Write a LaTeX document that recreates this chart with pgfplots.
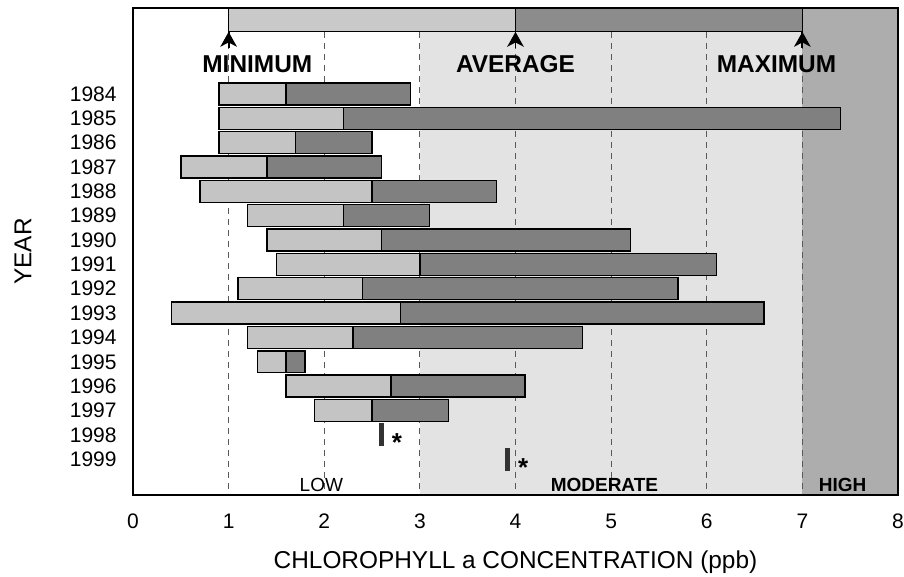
\documentclass[border=0pt]{standalone}
\usepackage{fontspec}
\setmainfont{Liberation Sans}
\usepackage{pgfplots}
\usepackage{pgfplotstable}
\pgfplotsset{compat=1.18}
\usetikzlibrary{arrows.meta}

\definecolor{lightbar}{gray}{0.77}
\definecolor{darkbar}{gray}{0.50}
\definecolor{modbg}{gray}{0.89}
\definecolor{highbg}{gray}{0.68}
\definecolor{toplight}{gray}{0.79}
\definecolor{topdark}{gray}{0.55}
\definecolor{gridc}{gray}{0.35}

\pgfplotstableread{
yr min avg max
0 0.9 1.6 2.9
1 0.9 2.2 7.4
2 0.9 1.7 2.5
3 0.5 1.4 2.6
4 0.7 2.5 3.8
5 1.2 2.2 3.1
6 1.4 2.6 5.2
7 1.5 3.0 6.1
8 1.1 2.4 5.7
9 0.4 2.8 6.6
10 1.2 2.3 4.7
11 1.3 1.6 1.8
12 1.6 2.7 4.1
13 1.9 2.5 3.3
}\bars

\begin{document}
\begin{tikzpicture}
\begin{axis}[
  scale only axis, width=382.5pt, height=243.5pt,
  xmin=0, xmax=8, ymin=-3.53, ymax=16.47, y dir=reverse,
  xbar stacked, reverse stacked plots=false, bar width=0.9,
  xtick={0,1,2,3,4,5,6,7,8}, ytick={0,1,2,3,4,5,6,7,8,9,10,11,12,13,14,15},
  yticklabels={1984,1985,1986,1987,1988,1989,1990,1991,1992,1993,1994,1995,1996,1997,1998,1999},
  tick style={draw=none}, major tick length=0pt,
  ticklabel style={font=\fontsize{10.5}{12}\selectfont, inner sep=0pt},
  xticklabel style={anchor=base, yshift=-16.75pt},
  yticklabel style={anchor=east, xshift=-8pt},
  /pgf/number format/assume math mode=true,
  axis line style={line width=0.6pt},
  axis on top,
  xlabel={CHLOROPHYLL a CONCENTRATION (ppb)},
  xlabel style={at={(axis description cs:0.5,-0.1515)}, anchor=base, font=\fontsize{12.2}{14}\selectfont, inner sep=0pt},
  ylabel={YEAR},
  ylabel style={at={(axis description cs:-0.1438,0.5)}, anchor=center, font=\fontsize{12.2}{14}\selectfont, inner sep=0pt},
]
\fill[modbg] (axis cs:3,-2.55) rectangle (axis cs:7,16.47);
\fill[highbg] (axis cs:7,-3.53) rectangle (axis cs:8,16.47);
\pgfplotsinvokeforeach{1,2,3,4,5,6,7}{
  \draw[gridc, dash pattern=on 3pt off 2.5pt, line width=0.5pt] (axis cs:#1,-2.55) -- (axis cs:#1,16.47);
}
\filldraw[fill=toplight, draw=black, line width=0.6pt] (axis cs:1,-3.53) rectangle (axis cs:4,-2.55);
\filldraw[fill=topdark, draw=black, line width=0.6pt] (axis cs:4,-3.53) rectangle (axis cs:7,-2.55);
\pgfplotsinvokeforeach{1,4,7}{
  \draw[line width=0.9pt] (axis cs:#1,-2.55) -- ++(0pt,-8pt);
  \fill[black] (axis cs:#1,-2.55) -- ++(-4.2pt,-7.5pt) -- ++(4.2pt,2.2pt) -- ++(4.2pt,-2.2pt) -- cycle;
}
\node[font=\bfseries\fontsize{12.2}{14}\selectfont] at (axis cs:1.3,-1.23) {MINIMUM};
\node[font=\bfseries\fontsize{12.2}{14}\selectfont] at (axis cs:4.0,-1.23) {AVERAGE};
\node[font=\bfseries\fontsize{12.2}{14}\selectfont] at (axis cs:6.73,-1.23) {MAXIMUM};
\node[font=\fontsize{9.5}{11}\selectfont] at (axis cs:1.97,16.06) {LOW};
\node[font=\bfseries\fontsize{9.5}{11}\selectfont] at (axis cs:4.93,16.06) {MODERATE};
\node[font=\bfseries\fontsize{9.5}{11}\selectfont] at (axis cs:7.42,16.06) {HIGH};

\addplot[draw=none, fill=none] table[x=min, y=yr]{\bars};
\addplot[fill=lightbar, draw=black, line width=0.7pt] table[x expr=\thisrow{avg}-\thisrow{min}, y=yr]{\bars};
\addplot[fill=darkbar, draw=black, line width=0.7pt] table[x expr=\thisrow{max}-\thisrow{avg}, y=yr]{\bars};

\addplot[stack plots=false, only marks, mark=|, mark size=5.75pt, mark options={line width=2.5pt, draw=black!80}] coordinates {(2.6,14) (3.92,15)};
\addplot[stack plots=false, only marks, mark=text, text mark={*}, text mark as node=true,
  text mark style={font=\bfseries\fontsize{13}{13}\selectfont, anchor=center, yshift=-4pt}] coordinates {(2.76,14) (4.08,15)};

\coordinate (ll) at (axis cs:0,16.47);
\coordinate (ur) at (axis cs:8,-3.53);
\end{axis}
\pgfresetboundingbox
\path ([shift={(-66.5pt,-41pt)}]ll) rectangle ([shift={(3pt,4pt)}]ur);
\end{tikzpicture}
\end{document}
